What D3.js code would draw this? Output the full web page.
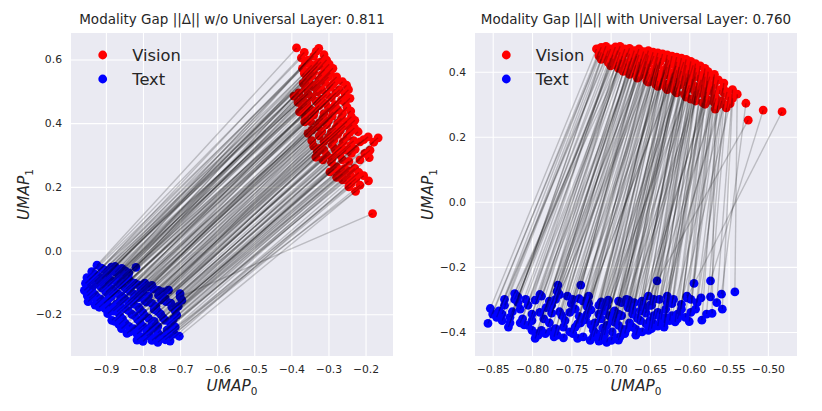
<!DOCTYPE html>
<html>
<head>
<meta charset="utf-8">
<script src="https://cdn.jsdelivr.net/npm/d3@7"></script>
<style>
body { margin: 0; background: #fff; }
text { font-family: "DejaVu Sans", sans-serif; fill: #262626; }
</style>
</head>
<body>
<svg id="chart" width="822" height="411"></svg>
<script>
// left panel: w/o universal layer (pairs: visionLeft[i] <-> textLeft[i])
visionLeft = [
    [-0.386,0.636],[-0.326,0.635],
    [-0.373,0.605],[-0.355,0.598],[-0.340,0.610],[-0.320,0.592],[-0.305,0.598],
    [-0.370,0.572],[-0.350,0.565],[-0.330,0.578],[-0.310,0.568],[-0.288,0.572],
    [-0.359,0.540],[-0.345,0.548],[-0.325,0.536],[-0.300,0.545],[-0.278,0.545],
    [-0.362,0.508],[-0.342,0.515],[-0.318,0.505],[-0.295,0.512],[-0.270,0.505],[-0.251,0.519],
    [-0.393,0.485],[-0.370,0.478],[-0.345,0.482],[-0.320,0.475],[-0.292,0.480],[-0.265,0.472],[-0.242,0.478],
    [-0.370,0.451],[-0.350,0.445],[-0.325,0.455],[-0.300,0.448],[-0.275,0.442],[-0.250,0.450],
    [-0.362,0.418],[-0.340,0.425],[-0.315,0.415],[-0.290,0.422],[-0.265,0.415],[-0.238,0.420],
    [-0.364,0.404],[-0.330,0.388],[-0.305,0.395],[-0.280,0.385],[-0.255,0.392],[-0.229,0.409],
    [-0.355,0.368],[-0.325,0.360],[-0.300,0.355],[-0.275,0.365],[-0.250,0.358],[-0.220,0.373],[-0.193,0.357],[-0.166,0.354],
    [-0.340,0.328],[-0.323,0.321],[-0.290,0.332],[-0.265,0.325],[-0.240,0.330],[-0.215,0.341],[-0.188,0.315],
    [-0.334,0.293],[-0.305,0.300],[-0.278,0.305],[-0.269,0.300],[-0.238,0.305],[-0.190,0.292],
    [-0.292,0.277],[-0.278,0.263],[-0.256,0.258],[-0.229,0.258],
    [-0.296,0.247],[-0.262,0.240],[-0.240,0.235],
    [-0.251,0.221],[-0.226,0.226],[-0.192,0.219],[-0.227,0.186],[-0.181,0.116],
    [-0.365,0.622],[-0.333,0.625],[-0.312,0.615],
    [-0.362,0.588],[-0.345,0.582],[-0.328,0.590],[-0.298,0.585],[-0.315,0.580],
    [-0.365,0.556],[-0.340,0.560],[-0.318,0.552],[-0.295,0.558],[-0.282,0.530],
    [-0.368,0.525],[-0.352,0.528],[-0.332,0.522],[-0.310,0.528],[-0.288,0.522],[-0.262,0.530],
    [-0.380,0.495],[-0.355,0.492],[-0.330,0.498],[-0.305,0.490],[-0.280,0.495],[-0.255,0.492],[-0.246,0.505],
    [-0.382,0.465],[-0.358,0.462],[-0.333,0.468],[-0.308,0.462],[-0.282,0.458],[-0.255,0.465],
    [-0.378,0.435],[-0.360,0.432],[-0.337,0.438],[-0.312,0.430],[-0.287,0.435],[-0.262,0.430],[-0.240,0.438],
    [-0.348,0.405],[-0.325,0.400],[-0.300,0.408],[-0.275,0.400],[-0.250,0.405],[-0.236,0.395],
    [-0.345,0.378],[-0.318,0.375],[-0.292,0.372],[-0.268,0.378],[-0.242,0.372],[-0.230,0.385],
    [-0.345,0.345],[-0.312,0.342],[-0.285,0.348],[-0.260,0.342],[-0.232,0.345],[-0.205,0.348],[-0.178,0.340],
    [-0.330,0.310],[-0.312,0.315],[-0.282,0.318],[-0.252,0.315],[-0.228,0.318],[-0.202,0.305],
    [-0.315,0.285],[-0.290,0.290],[-0.262,0.285],[-0.245,0.280],[-0.215,0.285],
    [-0.285,0.255],[-0.268,0.250],[-0.245,0.250],[-0.218,0.245],
    [-0.278,0.230],[-0.262,0.222],[-0.238,0.212],[-0.205,0.235],
    [-0.245,0.200],[-0.215,0.205]
];
textLeft = [
    [-0.924,-0.046],[-0.857,-0.056],
    [-0.938,-0.066],[-0.905,-0.060],[-0.885,-0.052],[-0.862,-0.072],[-0.819,-0.053],
    [-0.951,-0.085],[-0.920,-0.080],[-0.895,-0.075],[-0.866,-0.088],[-0.840,-0.080],
    [-0.955,-0.103],[-0.930,-0.098],[-0.902,-0.104],[-0.870,-0.100],[-0.835,-0.095],
    [-0.945,-0.118],[-0.915,-0.112],[-0.884,-0.120],[-0.850,-0.115],[-0.812,-0.108],[-0.776,-0.109],
    [-0.952,-0.132],[-0.930,-0.138],[-0.900,-0.130],[-0.868,-0.135],[-0.835,-0.128],[-0.800,-0.132],[-0.758,-0.125],
    [-0.945,-0.150],[-0.915,-0.152],[-0.885,-0.145],[-0.850,-0.150],[-0.812,-0.148],[-0.731,-0.124],
    [-0.929,-0.171],[-0.905,-0.165],[-0.872,-0.168],[-0.840,-0.160],[-0.795,-0.158],[-0.758,-0.140],
    [-0.902,-0.182],[-0.880,-0.190],[-0.850,-0.182],[-0.812,-0.178],[-0.776,-0.166],[-0.740,-0.150],
    [-0.884,-0.219],[-0.862,-0.205],[-0.830,-0.200],[-0.800,-0.195],[-0.770,-0.185],[-0.725,-0.165],[-0.700,-0.135],[-0.695,-0.156],
    [-0.865,-0.232],[-0.848,-0.228],[-0.815,-0.215],[-0.785,-0.212],[-0.752,-0.200],[-0.713,-0.190],[-0.709,-0.203],
    [-0.843,-0.260],[-0.825,-0.245],[-0.800,-0.238],[-0.776,-0.232],[-0.740,-0.219],[-0.713,-0.240],
    [-0.816,-0.262],[-0.790,-0.255],[-0.767,-0.245],[-0.735,-0.250],
    [-0.816,-0.281],[-0.790,-0.268],[-0.754,-0.266],
    [-0.776,-0.282],[-0.727,-0.284],[-0.702,-0.269],[-0.745,-0.272],[-0.700,-0.145],
    [-0.912,-0.055],[-0.875,-0.050],[-0.848,-0.064],
    [-0.930,-0.074],[-0.900,-0.082],[-0.875,-0.068],[-0.838,-0.070],[-0.855,-0.080],
    [-0.945,-0.092],[-0.910,-0.088],[-0.885,-0.094],[-0.853,-0.090],[-0.822,-0.102],
    [-0.950,-0.110],[-0.925,-0.105],[-0.895,-0.112],[-0.862,-0.108],[-0.830,-0.112],[-0.795,-0.102],
    [-0.958,-0.125],[-0.938,-0.122],[-0.910,-0.118],[-0.878,-0.126],[-0.845,-0.120],[-0.805,-0.122],[-0.785,-0.115],
    [-0.950,-0.142],[-0.925,-0.145],[-0.892,-0.140],[-0.858,-0.142],[-0.822,-0.138],[-0.772,-0.120],
    [-0.948,-0.160],[-0.925,-0.158],[-0.895,-0.155],[-0.862,-0.158],[-0.825,-0.152],[-0.785,-0.142],[-0.745,-0.130],
    [-0.918,-0.178],[-0.892,-0.175],[-0.862,-0.172],[-0.825,-0.168],[-0.790,-0.162],[-0.750,-0.155],
    [-0.895,-0.198],[-0.870,-0.192],[-0.840,-0.188],[-0.808,-0.185],[-0.765,-0.175],[-0.738,-0.160],
    [-0.876,-0.222],[-0.855,-0.215],[-0.822,-0.205],[-0.795,-0.205],[-0.760,-0.192],[-0.722,-0.178],[-0.705,-0.175],
    [-0.858,-0.245],[-0.838,-0.238],[-0.808,-0.225],[-0.770,-0.222],[-0.745,-0.212],[-0.718,-0.215],
    [-0.835,-0.255],[-0.812,-0.248],[-0.785,-0.245],[-0.760,-0.238],[-0.725,-0.232],
    [-0.805,-0.272],[-0.782,-0.265],[-0.760,-0.258],[-0.720,-0.258],
    [-0.800,-0.285],[-0.768,-0.278],[-0.740,-0.280],[-0.715,-0.262],
    [-0.760,-0.288],[-0.730,-0.275]
];
// right panel: with universal layer
visionRight = [
    [-0.718,0.470],[-0.715,0.449],
    [-0.706,0.478],[-0.709,0.455],[-0.703,0.428],
    [-0.694,0.476],[-0.697,0.452],[-0.692,0.430],[-0.690,0.410],
    [-0.682,0.470],[-0.685,0.448],[-0.680,0.425],[-0.684,0.401],
    [-0.670,0.465],[-0.673,0.443],[-0.668,0.420],[-0.671,0.396],[-0.666,0.380],
    [-0.658,0.462],[-0.661,0.440],[-0.656,0.415],[-0.659,0.392],[-0.654,0.372],
    [-0.646,0.460],[-0.649,0.435],[-0.644,0.410],[-0.647,0.385],[-0.643,0.362],
    [-0.634,0.455],[-0.637,0.430],[-0.632,0.405],[-0.635,0.380],[-0.630,0.352],
    [-0.622,0.448],[-0.625,0.422],[-0.620,0.398],[-0.623,0.372],[-0.618,0.340],
    [-0.610,0.442],[-0.613,0.415],[-0.608,0.388],[-0.611,0.360],[-0.606,0.330],
    [-0.598,0.432],[-0.601,0.405],[-0.596,0.378],[-0.599,0.350],[-0.598,0.316],
    [-0.586,0.418],[-0.589,0.390],[-0.584,0.360],[-0.587,0.334],[-0.583,0.305],
    [-0.576,0.400],[-0.577,0.372],[-0.572,0.345],[-0.575,0.312],
    [-0.569,0.385],[-0.561,0.344],[-0.564,0.296],
    [-0.550,0.323],[-0.553,0.289],
    [-0.539,0.331],[-0.528,0.303],[-0.506,0.282],[-0.482,0.277],[-0.525,0.251],[-0.567,0.285],
    [-0.712,0.475],[-0.712,0.460],[-0.712,0.438],
    [-0.700,0.470],[-0.700,0.442],[-0.700,0.418],
    [-0.688,0.478],[-0.688,0.460],[-0.688,0.438],[-0.688,0.415],
    [-0.676,0.472],[-0.676,0.455],[-0.676,0.432],[-0.676,0.410],[-0.676,0.392],
    [-0.664,0.470],[-0.664,0.452],[-0.664,0.430],[-0.664,0.405],[-0.664,0.385],
    [-0.652,0.465],[-0.652,0.450],[-0.652,0.425],[-0.652,0.400],[-0.652,0.368],
    [-0.640,0.458],[-0.640,0.445],[-0.640,0.420],[-0.640,0.395],[-0.640,0.372],[-0.640,0.355],
    [-0.628,0.452],[-0.628,0.440],[-0.628,0.415],[-0.628,0.390],[-0.628,0.362],[-0.628,0.345],
    [-0.616,0.445],[-0.616,0.430],[-0.616,0.405],[-0.616,0.380],[-0.616,0.352],[-0.616,0.335],
    [-0.604,0.438],[-0.604,0.420],[-0.604,0.395],[-0.604,0.368],[-0.604,0.342],[-0.604,0.322],
    [-0.592,0.425],[-0.592,0.412],[-0.592,0.385],[-0.592,0.355],[-0.592,0.325],[-0.592,0.310],
    [-0.580,0.410],[-0.580,0.385],[-0.580,0.352],[-0.580,0.325],[-0.580,0.300],
    [-0.568,0.392],[-0.568,0.362],[-0.568,0.330],[-0.568,0.305],
    [-0.556,0.365],[-0.556,0.335],[-0.556,0.300],
    [-0.545,0.345],[-0.545,0.318],
    [-0.715,0.462],[-0.703,0.465],[-0.697,0.440],[-0.691,0.465],[-0.686,0.436],[-0.679,0.458],
    [-0.674,0.405],[-0.667,0.455],[-0.662,0.422],[-0.655,0.455],[-0.650,0.392],[-0.645,0.448],
    [-0.641,0.425],[-0.636,0.442],[-0.631,0.398],[-0.626,0.435],[-0.621,0.385],[-0.617,0.418],
    [-0.612,0.372],[-0.607,0.430],[-0.603,0.382],[-0.600,0.358],[-0.595,0.420],[-0.591,0.398],
    [-0.588,0.345],[-0.585,0.375],[-0.581,0.395],[-0.578,0.338],[-0.574,0.385],[-0.571,0.355],
    [-0.566,0.318],[-0.563,0.375],[-0.559,0.310],[-0.557,0.350],[-0.552,0.338],[-0.548,0.302],
    [-0.667,0.448],[-0.655,0.432],[-0.643,0.385],[-0.622,0.395],[-0.610,0.402],[-0.600,0.392],
    [-0.636,0.365],[-0.619,0.355],[-0.593,0.340],[-0.579,0.315],[-0.705,0.448],[-0.693,0.420]
];
textRight = [
    [-0.853,-0.328],[-0.856,-0.374],
    [-0.838,-0.345],[-0.830,-0.385],[-0.822,-0.300],
    [-0.815,-0.330],[-0.812,-0.360],[-0.800,-0.395],[-0.822,-0.282],
    [-0.796,-0.302],[-0.790,-0.340],[-0.796,-0.420],[-0.778,-0.372],
    [-0.767,-0.256],[-0.775,-0.318],[-0.783,-0.405],[-0.762,-0.350],[-0.770,-0.390],
    [-0.755,-0.290],[-0.745,-0.330],[-0.760,-0.418],[-0.750,-0.313],[-0.742,-0.375],
    [-0.738,-0.256],[-0.735,-0.305],[-0.726,-0.426],[-0.730,-0.345],[-0.722,-0.395],
    [-0.715,-0.318],[-0.712,-0.360],[-0.708,-0.410],[-0.703,-0.302],[-0.699,-0.426],
    [-0.695,-0.335],[-0.690,-0.380],[-0.686,-0.310],[-0.682,-0.405],[-0.693,-0.358],
    [-0.677,-0.302],[-0.672,-0.345],[-0.668,-0.392],[-0.660,-0.318],[-0.676,-0.372],
    [-0.656,-0.330],[-0.650,-0.365],[-0.648,-0.390],[-0.645,-0.300],[-0.641,-0.243],
    [-0.640,-0.340],[-0.632,-0.372],[-0.628,-0.310],[-0.622,-0.313],[-0.630,-0.355],
    [-0.618,-0.369],[-0.610,-0.330],[-0.603,-0.290],[-0.612,-0.350],
    [-0.598,-0.340],[-0.594,-0.251],[-0.584,-0.364],
    [-0.590,-0.310],[-0.573,-0.292],
    [-0.542,-0.277],[-0.559,-0.284],[-0.573,-0.243],[-0.603,-0.295],[-0.652,-0.290],[-0.571,-0.343],
    [-0.845,-0.355],[-0.835,-0.318],[-0.828,-0.372],
    [-0.825,-0.338],[-0.810,-0.378],[-0.818,-0.310],
    [-0.808,-0.300],[-0.800,-0.345],[-0.792,-0.410],[-0.805,-0.380],
    [-0.788,-0.290],[-0.782,-0.325],[-0.772,-0.415],[-0.785,-0.360],[-0.776,-0.398],
    [-0.768,-0.275],[-0.765,-0.338],[-0.752,-0.400],[-0.758,-0.365],[-0.770,-0.300],
    [-0.748,-0.300],[-0.740,-0.352],[-0.735,-0.415],[-0.745,-0.385],[-0.730,-0.322],
    [-0.728,-0.290],[-0.725,-0.332],[-0.718,-0.405],[-0.720,-0.372],[-0.712,-0.425],[-0.732,-0.362],
    [-0.708,-0.335],[-0.705,-0.380],[-0.698,-0.400],[-0.712,-0.308],[-0.702,-0.350],[-0.692,-0.418],
    [-0.690,-0.305],[-0.686,-0.350],[-0.680,-0.392],[-0.688,-0.415],[-0.678,-0.325],[-0.695,-0.370],
    [-0.670,-0.310],[-0.666,-0.358],[-0.660,-0.400],[-0.672,-0.385],[-0.662,-0.335],[-0.655,-0.375],
    [-0.650,-0.318],[-0.645,-0.350],[-0.640,-0.382],[-0.652,-0.395],[-0.638,-0.300],[-0.636,-0.362],
    [-0.630,-0.330],[-0.625,-0.365],[-0.620,-0.300],[-0.632,-0.385],[-0.615,-0.345],
    [-0.610,-0.315],[-0.605,-0.355],[-0.598,-0.300],[-0.600,-0.368],
    [-0.592,-0.330],[-0.585,-0.295],[-0.578,-0.345],
    [-0.565,-0.310],[-0.558,-0.330],
    [-0.850,-0.345],[-0.842,-0.335],[-0.828,-0.355],[-0.818,-0.292],[-0.815,-0.372],[-0.805,-0.318],
    [-0.800,-0.365],[-0.790,-0.285],[-0.788,-0.395],[-0.778,-0.305],[-0.775,-0.342],[-0.765,-0.285],
    [-0.760,-0.385],[-0.752,-0.340],[-0.748,-0.405],[-0.740,-0.298],[-0.738,-0.372],[-0.728,-0.312],
    [-0.722,-0.415],[-0.715,-0.345],[-0.710,-0.388],[-0.705,-0.320],[-0.698,-0.365],[-0.690,-0.345],
    [-0.685,-0.392],[-0.680,-0.300],[-0.672,-0.332],[-0.668,-0.410],[-0.662,-0.365],[-0.655,-0.342],
    [-0.648,-0.318],[-0.645,-0.375],[-0.638,-0.345],[-0.628,-0.290],[-0.622,-0.350],[-0.615,-0.360],
    [-0.795,-0.405],[-0.768,-0.410],[-0.742,-0.420],[-0.715,-0.428],[-0.705,-0.432],[-0.690,-0.425],
    [-0.725,-0.378],[-0.708,-0.395],[-0.672,-0.312],[-0.660,-0.305],[-0.835,-0.300],[-0.838,-0.365]
];

ticksLeftX = [-0.9, -0.8, -0.7, -0.6, -0.5, -0.4, -0.3, -0.2];
ticksLeftY = [-0.2, 0.0, 0.2, 0.4, 0.6];
ticksRightX = [-0.85, -0.80, -0.75, -0.70, -0.65, -0.60, -0.55, -0.50];
ticksRightY = [-0.4, -0.2, 0.0, 0.2, 0.4];
titles = ["Modality Gap ||\u0394|| w/o Universal Layer: 0.811",
          "Modality Gap ||\u0394|| with Universal Layer: 0.760"];
legendNames = ["Vision", "Text"];
colours = ["#ff0000", "#0000ff"];

svg = d3.select("#chart");
dotRadius = 4.4;

function drawPanel(p) {
    var x = d3.scaleLinear().domain(p.xDomain).range([p.left, p.right]);
    var y = d3.scaleLinear().domain(p.yDomain).range([p.bottom, p.top]);
    var g = svg.append("g");

    g.append("rect")
        .attr("x", p.left).attr("y", p.top)
        .attr("width", p.right - p.left).attr("height", p.bottom - p.top)
        .attr("fill", "#eaeaf2");

    // grid + tick labels
    var xAxis = g.append("g")
        .attr("transform", "translate(0," + p.bottom + ")")
        .call(d3.axisBottom(x).tickValues(p.xTicks).tickFormat(d3.format(p.xFmt))
            .tickSize(-(p.bottom - p.top)).tickPadding(9));
    var yAxis = g.append("g")
        .attr("transform", "translate(" + p.left + ",0)")
        .call(d3.axisLeft(y).tickValues(p.yTicks).tickFormat(d3.format(".1f"))
            .tickSize(-(p.right - p.left)).tickPadding(9));
    [xAxis, yAxis].forEach(function(a) {
        a.select(".domain").remove();
        a.selectAll("line").attr("stroke", "#fff").attr("stroke-width", 1.1);
        a.selectAll("text").attr("font-size", 10.8).attr("fill", "#262626")
            .attr("font-family", "DejaVu Sans");
    });

    g.append("clipPath").attr("id", "clip" + p.id)
        .append("rect")
        .attr("x", p.left).attr("y", p.top)
        .attr("width", p.right - p.left).attr("height", p.bottom - p.top);
    var plot = g.append("g").attr("clip-path", "url(#clip" + p.id + ")");

    plot.selectAll("circle.v").data(p.vision).enter()
        .append("circle")
        .attr("cx", (d) => x(d[0]))
        .attr("cy", (d) => y(d[1]))
        .attr("r", dotRadius)
        .attr("fill", colours[0]);
    plot.selectAll("circle.t").data(p.text).enter()
        .append("circle")
        .attr("cx", (d) => x(d[0]))
        .attr("cy", (d) => y(d[1]))
        .attr("r", dotRadius)
        .attr("fill", colours[1]);
    // connecting lines drawn over the dots
    plot.selectAll("line.pair").data(p.vision).enter()
        .append("line")
        .attr("x1", (d) => x(d[0]))
        .attr("y1", (d) => y(d[1]))
        .attr("x2", (d, i) => x(p.text[i][0]))
        .attr("y2", (d, i) => y(p.text[i][1]))
        .attr("stroke", "#000")
        .attr("stroke-opacity", 0.2)
        .attr("stroke-width", 1.4);

    // title
    g.append("text")
        .attr("x", (p.left + p.right) / 2)
        .attr("y", p.top - 9)
        .attr("text-anchor", "middle")
        .attr("font-size", 13.5)
        .text(p.title);

    // axis labels
    var xl = g.append("text")
        .attr("x", (p.left + p.right) / 2)
        .attr("y", 391)
        .attr("text-anchor", "middle")
        .attr("font-size", 15.3);
    xl.append("tspan").attr("font-style", "italic").text("UMAP");
    xl.append("tspan").attr("font-size", 10.5).attr("dy", 3.5).text("0");

    var yl = g.append("text")
        .attr("transform", "translate(" + (p.left - 42) + "," + ((p.top + p.bottom) / 2) + ") rotate(-90)")
        .attr("text-anchor", "middle")
        .attr("font-size", 15.3);
    yl.append("tspan").attr("font-style", "italic").text("UMAP");
    yl.append("tspan").attr("font-size", 10.5).attr("dy", 3.5).text("1");

    // legend
    var leg = g.selectAll("g.legend").data(legendNames).enter()
        .append("g")
        .attr("transform", (d, i) => "translate(" + p.legendX + "," + (55 + i * 24) + ")");
    leg.append("circle").attr("r", dotRadius).attr("fill", (d, i) => colours[i]);
    leg.append("text")
        .attr("x", 29.5)
        .attr("y", 5.8)
        .attr("font-size", 16.3)
        .text((d) => d);
}

drawPanel({
    id: 0, left: 71, right: 393, top: 33, bottom: 356,
    xDomain: [-0.994, -0.126], yDomain: [-0.331, 0.683],
    xTicks: ticksLeftX, yTicks: ticksLeftY, xFmt: ".1f",
    title: titles[0], vision: visionLeft, text: textLeft, legendX: 102.7
});
drawPanel({
    id: 1, left: 475, right: 797, top: 33, bottom: 356,
    xDomain: [-0.8725, -0.463], yDomain: [-0.474, 0.519],
    xTicks: ticksRightX, yTicks: ticksRightY, xFmt: ".2f",
    title: titles[1], vision: visionRight, text: textRight, legendX: 506.3
});
</script>
</body>
</html>
